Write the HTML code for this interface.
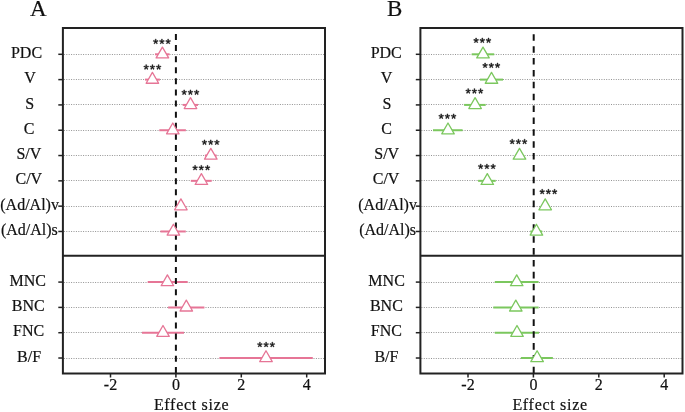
<!DOCTYPE html>
<html><head><meta charset="utf-8"><style>
html,body{margin:0;padding:0;background:#fff;width:685px;height:412px;overflow:hidden}
svg{display:block;will-change:transform}
text{font-family:"Liberation Serif",serif;fill:#111;stroke:#111;stroke-width:0.2px}
.lb{font-size:16px;text-anchor:middle}
.tk{font-size:16px;text-anchor:middle}
.xl{font-size:16px;letter-spacing:0.7px}
.pl{font-size:23px}
.st{font-family:"Liberation Sans",sans-serif;font-size:16px;text-anchor:middle}
</style></head><body>
<svg width="685" height="412" viewBox="0 0 685 412">
<defs><path id="ast" fill="#111" stroke="#111" stroke-width="70" stroke-linejoin="round" transform="scale(1,-1) translate(-399,-1049.5)" d="M456 1114 720 1217 765 1085 483 1012 668 762 549 690 399 948 243 692 124 764 313 1012 33 1085 78 1219 345 1112 333 1409H469Z"/></defs>
<text x="30.0" y="15.6" class="pl">A</text>
<text x="387.0" y="15.6" class="pl">B</text>
<line x1="63.9" y1="54.50" x2="324.0" y2="54.50" stroke="#939393" stroke-width="1" stroke-dasharray="1 1.4"/>
<line x1="63.9" y1="79.50" x2="324.0" y2="79.50" stroke="#939393" stroke-width="1" stroke-dasharray="1 1.4"/>
<line x1="63.9" y1="104.50" x2="324.0" y2="104.50" stroke="#939393" stroke-width="1" stroke-dasharray="1 1.4"/>
<line x1="63.9" y1="130.50" x2="324.0" y2="130.50" stroke="#939393" stroke-width="1" stroke-dasharray="1 1.4"/>
<line x1="63.9" y1="155.50" x2="324.0" y2="155.50" stroke="#939393" stroke-width="1" stroke-dasharray="1 1.4"/>
<line x1="63.9" y1="180.50" x2="324.0" y2="180.50" stroke="#939393" stroke-width="1" stroke-dasharray="1 1.4"/>
<line x1="63.9" y1="206.50" x2="324.0" y2="206.50" stroke="#939393" stroke-width="1" stroke-dasharray="1 1.4"/>
<line x1="63.9" y1="231.50" x2="324.0" y2="231.50" stroke="#939393" stroke-width="1" stroke-dasharray="1 1.4"/>
<line x1="63.9" y1="282.50" x2="324.0" y2="282.50" stroke="#939393" stroke-width="1" stroke-dasharray="1 1.4"/>
<line x1="63.9" y1="307.50" x2="324.0" y2="307.50" stroke="#939393" stroke-width="1" stroke-dasharray="1 1.4"/>
<line x1="63.9" y1="332.50" x2="324.0" y2="332.50" stroke="#939393" stroke-width="1" stroke-dasharray="1 1.4"/>
<line x1="63.9" y1="358.50" x2="324.0" y2="358.50" stroke="#939393" stroke-width="1" stroke-dasharray="1 1.4"/>
<line x1="155.0" y1="54.30" x2="169.6" y2="54.30" stroke="#E67596" stroke-width="2"/>
<line x1="145.0" y1="79.61" x2="159.9" y2="79.61" stroke="#E67596" stroke-width="2"/>
<line x1="182.7" y1="104.92" x2="198.0" y2="104.92" stroke="#E67596" stroke-width="2"/>
<line x1="159.3" y1="130.23" x2="185.9" y2="130.23" stroke="#E67596" stroke-width="2"/>
<line x1="204.9" y1="155.54" x2="216.7" y2="155.54" stroke="#E67596" stroke-width="2"/>
<line x1="190.8" y1="180.85" x2="211.7" y2="180.85" stroke="#E67596" stroke-width="2"/>
<line x1="160.4" y1="231.47" x2="185.8" y2="231.47" stroke="#E67596" stroke-width="2"/>
<line x1="147.7" y1="282.09" x2="187.7" y2="282.09" stroke="#E67596" stroke-width="2"/>
<line x1="168.1" y1="307.40" x2="204.4" y2="307.40" stroke="#E67596" stroke-width="2"/>
<line x1="142.0" y1="332.71" x2="184.0" y2="332.71" stroke="#E67596" stroke-width="2"/>
<line x1="219.4" y1="358.02" x2="312.8" y2="358.02" stroke="#E67596" stroke-width="2"/>
<line x1="175.90" y1="33.95" x2="175.90" y2="373.5" stroke="#111" stroke-width="2" stroke-dasharray="6 5.098"/>
<path d="M162.40 47.07L168.66 57.92L156.14 57.92Z" fill="#fff" stroke="#E67596" stroke-width="1.3" stroke-linejoin="round"/>
<path d="M152.40 72.38L158.66 83.23L146.14 83.23Z" fill="#fff" stroke="#E67596" stroke-width="1.3" stroke-linejoin="round"/>
<path d="M190.50 97.69L196.76 108.54L184.24 108.54Z" fill="#fff" stroke="#E67596" stroke-width="1.3" stroke-linejoin="round"/>
<path d="M172.80 123.00L179.06 133.85L166.54 133.85Z" fill="#fff" stroke="#E67596" stroke-width="1.3" stroke-linejoin="round"/>
<path d="M210.80 148.31L217.06 159.16L204.54 159.16Z" fill="#fff" stroke="#E67596" stroke-width="1.3" stroke-linejoin="round"/>
<path d="M201.40 173.62L207.66 184.47L195.14 184.47Z" fill="#fff" stroke="#E67596" stroke-width="1.3" stroke-linejoin="round"/>
<path d="M180.90 198.93L187.16 209.78L174.64 209.78Z" fill="#fff" stroke="#E67596" stroke-width="1.3" stroke-linejoin="round"/>
<path d="M173.40 224.24L179.66 235.09L167.14 235.09Z" fill="#fff" stroke="#E67596" stroke-width="1.3" stroke-linejoin="round"/>
<path d="M167.40 274.86L173.66 285.71L161.14 285.71Z" fill="#fff" stroke="#E67596" stroke-width="1.3" stroke-linejoin="round"/>
<path d="M186.30 300.17L192.56 311.02L180.04 311.02Z" fill="#fff" stroke="#E67596" stroke-width="1.3" stroke-linejoin="round"/>
<path d="M163.00 325.48L169.26 336.33L156.74 336.33Z" fill="#fff" stroke="#E67596" stroke-width="1.3" stroke-linejoin="round"/>
<path d="M266.00 350.79L272.26 361.64L259.74 361.64Z" fill="#fff" stroke="#E67596" stroke-width="1.3" stroke-linejoin="round"/>
<use href="#ast" transform="translate(155.68 41.50) scale(0.0066)"/>
<use href="#ast" transform="translate(161.90 41.50) scale(0.0066)"/>
<use href="#ast" transform="translate(168.12 41.50) scale(0.0066)"/>
<use href="#ast" transform="translate(146.18 67.10) scale(0.0066)"/>
<use href="#ast" transform="translate(152.40 67.10) scale(0.0066)"/>
<use href="#ast" transform="translate(158.62 67.10) scale(0.0066)"/>
<use href="#ast" transform="translate(184.18 92.30) scale(0.0066)"/>
<use href="#ast" transform="translate(190.40 92.30) scale(0.0066)"/>
<use href="#ast" transform="translate(196.62 92.30) scale(0.0066)"/>
<use href="#ast" transform="translate(204.48 142.30) scale(0.0066)"/>
<use href="#ast" transform="translate(210.70 142.30) scale(0.0066)"/>
<use href="#ast" transform="translate(216.92 142.30) scale(0.0066)"/>
<use href="#ast" transform="translate(195.08 167.75) scale(0.0066)"/>
<use href="#ast" transform="translate(201.30 167.75) scale(0.0066)"/>
<use href="#ast" transform="translate(207.52 167.75) scale(0.0066)"/>
<use href="#ast" transform="translate(259.88 344.60) scale(0.0066)"/>
<use href="#ast" transform="translate(266.10 344.60) scale(0.0066)"/>
<use href="#ast" transform="translate(272.32 344.60) scale(0.0066)"/>
<rect x="62.90" y="28.00" width="262.10" height="345.50" fill="none" stroke="#222" stroke-width="2"/>
<line x1="62.90" y1="255.80" x2="325.00" y2="255.80" stroke="#222" stroke-width="2"/>
<line x1="58.30" y1="54.30" x2="62.90" y2="54.30" stroke="#222" stroke-width="1.5"/>
<line x1="58.30" y1="79.61" x2="62.90" y2="79.61" stroke="#222" stroke-width="1.5"/>
<line x1="58.30" y1="104.92" x2="62.90" y2="104.92" stroke="#222" stroke-width="1.5"/>
<line x1="58.30" y1="130.23" x2="62.90" y2="130.23" stroke="#222" stroke-width="1.5"/>
<line x1="58.30" y1="155.54" x2="62.90" y2="155.54" stroke="#222" stroke-width="1.5"/>
<line x1="58.30" y1="180.85" x2="62.90" y2="180.85" stroke="#222" stroke-width="1.5"/>
<line x1="58.30" y1="206.16" x2="62.90" y2="206.16" stroke="#222" stroke-width="1.5"/>
<line x1="58.30" y1="231.47" x2="62.90" y2="231.47" stroke="#222" stroke-width="1.5"/>
<line x1="58.30" y1="282.09" x2="62.90" y2="282.09" stroke="#222" stroke-width="1.5"/>
<line x1="58.30" y1="307.40" x2="62.90" y2="307.40" stroke="#222" stroke-width="1.5"/>
<line x1="58.30" y1="332.71" x2="62.90" y2="332.71" stroke="#222" stroke-width="1.5"/>
<line x1="58.30" y1="358.02" x2="62.90" y2="358.02" stroke="#222" stroke-width="1.5"/>
<line x1="110.50" y1="373.50" x2="110.50" y2="377.50" stroke="#222" stroke-width="1.5"/>
<text x="110.50" y="389.8" class="tk">-2</text>
<line x1="175.90" y1="373.50" x2="175.90" y2="377.50" stroke="#222" stroke-width="1.5"/>
<text x="175.90" y="389.8" class="tk">0</text>
<line x1="241.30" y1="373.50" x2="241.30" y2="377.50" stroke="#222" stroke-width="1.5"/>
<text x="241.30" y="389.8" class="tk">2</text>
<line x1="306.70" y1="373.50" x2="306.70" y2="377.50" stroke="#222" stroke-width="1.5"/>
<text x="306.70" y="389.8" class="tk">4</text>
<text x="26.5" y="57.90" class="lb">PDC</text>
<text x="30.1" y="83.21" class="lb">V</text>
<text x="29.6" y="108.52" class="lb">S</text>
<text x="29.2" y="133.83" class="lb">C</text>
<text x="28.9" y="159.14" class="lb">S/V</text>
<text x="28.8" y="184.45" class="lb">C/V</text>
<text x="29.6" y="209.76" class="lb">(Ad/Al)v</text>
<text x="29.4" y="235.07" class="lb">(Ad/Al)s</text>
<text x="27.7" y="285.69" class="lb">MNC</text>
<text x="28.3" y="311.00" class="lb">BNC</text>
<text x="28.6" y="336.31" class="lb">FNC</text>
<text x="29.1" y="361.62" class="lb">B/F</text>
<text x="153.9" y="410.3" class="xl">Effect size</text>
<line x1="421.4" y1="54.50" x2="681.5" y2="54.50" stroke="#939393" stroke-width="1" stroke-dasharray="1 1.4"/>
<line x1="421.4" y1="79.50" x2="681.5" y2="79.50" stroke="#939393" stroke-width="1" stroke-dasharray="1 1.4"/>
<line x1="421.4" y1="104.50" x2="681.5" y2="104.50" stroke="#939393" stroke-width="1" stroke-dasharray="1 1.4"/>
<line x1="421.4" y1="130.50" x2="681.5" y2="130.50" stroke="#939393" stroke-width="1" stroke-dasharray="1 1.4"/>
<line x1="421.4" y1="155.50" x2="681.5" y2="155.50" stroke="#939393" stroke-width="1" stroke-dasharray="1 1.4"/>
<line x1="421.4" y1="180.50" x2="681.5" y2="180.50" stroke="#939393" stroke-width="1" stroke-dasharray="1 1.4"/>
<line x1="421.4" y1="206.50" x2="681.5" y2="206.50" stroke="#939393" stroke-width="1" stroke-dasharray="1 1.4"/>
<line x1="421.4" y1="231.50" x2="681.5" y2="231.50" stroke="#939393" stroke-width="1" stroke-dasharray="1 1.4"/>
<line x1="421.4" y1="282.50" x2="681.5" y2="282.50" stroke="#939393" stroke-width="1" stroke-dasharray="1 1.4"/>
<line x1="421.4" y1="307.50" x2="681.5" y2="307.50" stroke="#939393" stroke-width="1" stroke-dasharray="1 1.4"/>
<line x1="421.4" y1="332.50" x2="681.5" y2="332.50" stroke="#939393" stroke-width="1" stroke-dasharray="1 1.4"/>
<line x1="421.4" y1="358.50" x2="681.5" y2="358.50" stroke="#939393" stroke-width="1" stroke-dasharray="1 1.4"/>
<line x1="471.7" y1="54.30" x2="494.2" y2="54.30" stroke="#7BC75E" stroke-width="2"/>
<line x1="480.0" y1="79.61" x2="503.0" y2="79.61" stroke="#7BC75E" stroke-width="2"/>
<line x1="464.1" y1="104.92" x2="485.7" y2="104.92" stroke="#7BC75E" stroke-width="2"/>
<line x1="433.0" y1="130.23" x2="462.6" y2="130.23" stroke="#7BC75E" stroke-width="2"/>
<line x1="478.1" y1="180.85" x2="495.7" y2="180.85" stroke="#7BC75E" stroke-width="2"/>
<line x1="530.3" y1="231.47" x2="542.2" y2="231.47" stroke="#7BC75E" stroke-width="2"/>
<line x1="494.8" y1="282.09" x2="538.6" y2="282.09" stroke="#7BC75E" stroke-width="2"/>
<line x1="493.3" y1="307.40" x2="538.6" y2="307.40" stroke="#7BC75E" stroke-width="2"/>
<line x1="494.8" y1="332.71" x2="539.0" y2="332.71" stroke="#7BC75E" stroke-width="2"/>
<line x1="520.9" y1="358.02" x2="552.9" y2="358.02" stroke="#7BC75E" stroke-width="2"/>
<line x1="533.70" y1="34.25" x2="533.70" y2="373.5" stroke="#111" stroke-width="2" stroke-dasharray="6.6 5.277"/>
<path d="M483.00 47.07L489.26 57.92L476.74 57.92Z" fill="#fff" stroke="#7BC75E" stroke-width="1.3" stroke-linejoin="round"/>
<path d="M491.50 72.38L497.76 83.23L485.24 83.23Z" fill="#fff" stroke="#7BC75E" stroke-width="1.3" stroke-linejoin="round"/>
<path d="M475.10 97.69L481.36 108.54L468.84 108.54Z" fill="#fff" stroke="#7BC75E" stroke-width="1.3" stroke-linejoin="round"/>
<path d="M448.00 123.00L454.26 133.85L441.74 133.85Z" fill="#fff" stroke="#7BC75E" stroke-width="1.3" stroke-linejoin="round"/>
<path d="M519.50 148.31L525.76 159.16L513.24 159.16Z" fill="#fff" stroke="#7BC75E" stroke-width="1.3" stroke-linejoin="round"/>
<path d="M487.30 173.62L493.56 184.47L481.04 184.47Z" fill="#fff" stroke="#7BC75E" stroke-width="1.3" stroke-linejoin="round"/>
<path d="M545.20 198.93L551.46 209.78L538.94 209.78Z" fill="#fff" stroke="#7BC75E" stroke-width="1.3" stroke-linejoin="round"/>
<path d="M536.40 224.24L542.66 235.09L530.14 235.09Z" fill="#fff" stroke="#7BC75E" stroke-width="1.3" stroke-linejoin="round"/>
<path d="M516.70 274.86L522.96 285.71L510.44 285.71Z" fill="#fff" stroke="#7BC75E" stroke-width="1.3" stroke-linejoin="round"/>
<path d="M515.80 300.17L522.06 311.02L509.54 311.02Z" fill="#fff" stroke="#7BC75E" stroke-width="1.3" stroke-linejoin="round"/>
<path d="M517.00 325.48L523.26 336.33L510.74 336.33Z" fill="#fff" stroke="#7BC75E" stroke-width="1.3" stroke-linejoin="round"/>
<path d="M537.10 350.79L543.36 361.64L530.84 361.64Z" fill="#fff" stroke="#7BC75E" stroke-width="1.3" stroke-linejoin="round"/>
<use href="#ast" transform="translate(476.08 40.40) scale(0.0066)"/>
<use href="#ast" transform="translate(482.30 40.40) scale(0.0066)"/>
<use href="#ast" transform="translate(488.52 40.40) scale(0.0066)"/>
<use href="#ast" transform="translate(485.08 65.40) scale(0.0066)"/>
<use href="#ast" transform="translate(491.30 65.40) scale(0.0066)"/>
<use href="#ast" transform="translate(497.52 65.40) scale(0.0066)"/>
<use href="#ast" transform="translate(468.18 91.05) scale(0.0066)"/>
<use href="#ast" transform="translate(474.40 91.05) scale(0.0066)"/>
<use href="#ast" transform="translate(480.62 91.05) scale(0.0066)"/>
<use href="#ast" transform="translate(441.18 116.30) scale(0.0066)"/>
<use href="#ast" transform="translate(447.40 116.30) scale(0.0066)"/>
<use href="#ast" transform="translate(453.62 116.30) scale(0.0066)"/>
<use href="#ast" transform="translate(512.18 141.60) scale(0.0066)"/>
<use href="#ast" transform="translate(518.40 141.60) scale(0.0066)"/>
<use href="#ast" transform="translate(524.62 141.60) scale(0.0066)"/>
<use href="#ast" transform="translate(480.68 166.50) scale(0.0066)"/>
<use href="#ast" transform="translate(486.90 166.50) scale(0.0066)"/>
<use href="#ast" transform="translate(493.12 166.50) scale(0.0066)"/>
<use href="#ast" transform="translate(542.18 191.70) scale(0.0066)"/>
<use href="#ast" transform="translate(548.40 191.70) scale(0.0066)"/>
<use href="#ast" transform="translate(554.62 191.70) scale(0.0066)"/>
<rect x="420.40" y="28.00" width="262.10" height="345.50" fill="none" stroke="#222" stroke-width="2"/>
<line x1="420.40" y1="255.80" x2="682.50" y2="255.80" stroke="#222" stroke-width="2"/>
<line x1="415.80" y1="54.30" x2="420.40" y2="54.30" stroke="#222" stroke-width="1.5"/>
<line x1="415.80" y1="79.61" x2="420.40" y2="79.61" stroke="#222" stroke-width="1.5"/>
<line x1="415.80" y1="104.92" x2="420.40" y2="104.92" stroke="#222" stroke-width="1.5"/>
<line x1="415.80" y1="130.23" x2="420.40" y2="130.23" stroke="#222" stroke-width="1.5"/>
<line x1="415.80" y1="155.54" x2="420.40" y2="155.54" stroke="#222" stroke-width="1.5"/>
<line x1="415.80" y1="180.85" x2="420.40" y2="180.85" stroke="#222" stroke-width="1.5"/>
<line x1="415.80" y1="206.16" x2="420.40" y2="206.16" stroke="#222" stroke-width="1.5"/>
<line x1="415.80" y1="231.47" x2="420.40" y2="231.47" stroke="#222" stroke-width="1.5"/>
<line x1="415.80" y1="282.09" x2="420.40" y2="282.09" stroke="#222" stroke-width="1.5"/>
<line x1="415.80" y1="307.40" x2="420.40" y2="307.40" stroke="#222" stroke-width="1.5"/>
<line x1="415.80" y1="332.71" x2="420.40" y2="332.71" stroke="#222" stroke-width="1.5"/>
<line x1="415.80" y1="358.02" x2="420.40" y2="358.02" stroke="#222" stroke-width="1.5"/>
<line x1="468.00" y1="373.50" x2="468.00" y2="377.50" stroke="#222" stroke-width="1.5"/>
<text x="468.00" y="389.8" class="tk">-2</text>
<line x1="533.40" y1="373.50" x2="533.40" y2="377.50" stroke="#222" stroke-width="1.5"/>
<text x="533.40" y="389.8" class="tk">0</text>
<line x1="598.80" y1="373.50" x2="598.80" y2="377.50" stroke="#222" stroke-width="1.5"/>
<text x="598.80" y="389.8" class="tk">2</text>
<line x1="664.20" y1="373.50" x2="664.20" y2="377.50" stroke="#222" stroke-width="1.5"/>
<text x="664.20" y="389.8" class="tk">4</text>
<text x="386.2" y="57.90" class="lb">PDC</text>
<text x="386.6" y="83.21" class="lb">V</text>
<text x="387.0" y="108.52" class="lb">S</text>
<text x="386.7" y="133.83" class="lb">C</text>
<text x="386.7" y="159.14" class="lb">S/V</text>
<text x="386.1" y="184.45" class="lb">C/V</text>
<text x="387.6" y="209.76" class="lb">(Ad/Al)v</text>
<text x="387.6" y="235.07" class="lb">(Ad/Al)s</text>
<text x="386.6" y="285.69" class="lb">MNC</text>
<text x="386.4" y="311.00" class="lb">BNC</text>
<text x="386.4" y="336.31" class="lb">FNC</text>
<text x="386.4" y="361.62" class="lb">B/F</text>
<text x="512.4" y="410.3" class="xl">Effect size</text>
</svg>
</body></html>
